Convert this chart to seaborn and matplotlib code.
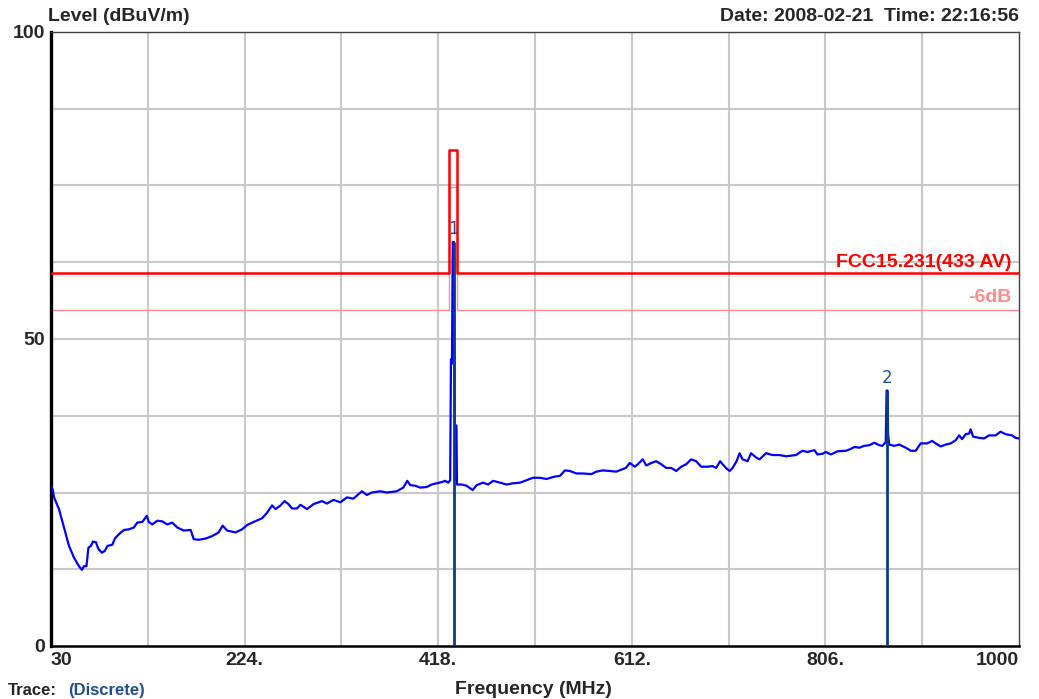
import matplotlib
matplotlib.use("Agg")
import matplotlib.pyplot as plt
import seaborn as sns
import pandas as pd

# ---------------- data ----------------
freq_mhz = [30, 31.7, 33, 38, 43, 48, 53, 58, 61, 63, 65.5, 67.5, 70, 72, 75, 77.5, 81, 84, 86.5,
            91.5, 94, 98, 103, 108, 113, 116.5, 121.5, 126, 128, 131.5, 136.5, 141.5, 146.5, 151.5,
            156.5, 163, 170, 173, 178, 185, 191.5, 198, 202, 206.5, 215, 221.5, 226.5, 233, 241.5,
            246.5, 251.5, 255, 260, 264, 268, 271.5, 276.5, 280, 286.5, 293, 301.5, 306.5, 313, 320,
            326.5, 333, 341.5, 346.5, 351.5, 360, 366.5, 376.5, 383, 387, 390, 395, 400, 406.5,
            411.5, 416.5, 421.5, 425, 428, 430.0, 430.8, 431.8, 432.6, 433.8, 434.6, 435.6, 436.3,
            436.8, 441.5, 446.5, 452.5, 456.5, 463, 468, 473, 480, 486.5, 493, 500, 506.5, 513, 520,
            526.5, 535, 540, 545, 550, 556.5, 563, 571.5, 576.5, 583, 590, 596.5, 603, 606, 610,
            615, 618, 623, 626.5, 631.5, 636.5, 641.5, 646.5, 651.5, 656.5, 661.5, 666.5, 671.5,
            676.5, 681.5, 688, 693, 696.5, 700.5, 703, 707, 710, 713, 717, 720, 723, 728, 731.5,
            736.5, 740, 746.5, 753, 760, 766.5, 776.5, 783, 788, 795, 798, 803, 806.5, 811.5, 818,
            826.5, 830, 835, 840, 845, 850, 855, 860, 863, 866.5, 867.3, 868.3, 868.8, 870, 875, 880,
            886.5, 891.5, 896.5, 901.5, 908, 913, 916.5, 921.5, 926.5, 931.5, 936.5, 940, 943,
            946.5, 950, 951.5, 954, 960, 965, 970, 976.5, 981.5, 986.5, 993, 996.5, 1000]
level_dbuv = [26.0, 25.5, 24.2, 22.3, 19.3, 16.3, 14.4, 13.0, 12.4, 13.0, 13.0, 16.0, 16.3, 17.0, 16.9,
              15.8, 15.2, 15.5, 16.3, 16.5, 17.5, 18.2, 18.9, 19.0, 19.3, 20.1, 20.2, 21.2, 20.2,
              19.8, 20.4, 20.3, 19.8, 20.1, 19.3, 18.8, 18.9, 17.4, 17.3, 17.5, 17.9, 18.5, 19.6,
              18.8, 18.5, 19.0, 19.7, 20.2, 20.8, 21.7, 22.9, 22.3, 22.9, 23.6, 23.1, 22.4, 22.4,
              23.0, 22.3, 23.1, 23.6, 23.2, 23.8, 23.4, 24.2, 24.0, 25.2, 24.6, 25.0, 25.2, 25.0,
              25.2, 25.8, 26.9, 26.2, 26.1, 25.8, 25.9, 26.3, 26.5, 26.7, 26.9, 26.6, 27.0, 46.7,
              46.0, 65.8, 65.8, 27.0, 35.9, 35.9, 26.3, 26.3, 26.1, 25.4, 26.2, 26.6, 26.3, 26.9,
              26.6, 26.3, 26.5, 26.6, 27.0, 27.4, 27.4, 27.2, 27.6, 27.7, 28.6, 28.5, 28.1, 28.1,
              28.0, 28.4, 28.6, 28.5, 28.4, 28.8, 29.0, 29.8, 29.2, 29.6, 30.4, 29.4, 29.8, 30.1,
              29.6, 29.0, 29.0, 28.5, 29.2, 29.6, 30.4, 30.1, 29.2, 29.2, 29.3, 29.0, 30.1, 29.6,
              28.9, 28.5, 29.0, 30.1, 31.4, 30.4, 30.1, 31.4, 30.7, 30.4, 31.4, 31.1, 31.1, 30.9,
              31.1, 31.8, 31.6, 31.9, 31.2, 31.3, 31.6, 31.2, 31.7, 31.8, 32.0, 32.4, 32.3, 32.6,
              32.7, 33.1, 32.7, 32.6, 33.2, 41.6, 41.6, 34.5, 32.8, 32.6, 32.8, 32.3, 31.8, 31.8,
              33.0, 33.0, 33.4, 33.0, 32.5, 32.8, 33.0, 33.5, 34.3, 33.7, 34.5, 34.6, 35.3, 34.1,
              33.9, 33.8, 34.3, 34.3, 34.9, 34.5, 34.3, 33.9, 33.8]

limit_freq = [30, 429.3, 429.3, 437.0, 437.0, 1000]
limit_level = [60.8, 60.8, 80.8, 80.8, 60.8, 60.8]
limit6_level = [54.8, 54.8, 74.8, 74.8, 54.8, 54.8]

marker_freq = [433.4, 867.8]
marker_level = [65.8, 41.6]
marker_labels = ["1", "2"]

xtick_values = [30, 224, 418, 612, 806, 1000]
xtick_labels = ["30", "224.", "418.", "612.", "806.", "1000"]
ytick_values = [0, 50, 100]
ytick_labels = ["0", "50", "100"]

# ---------------- style ----------------
sns.set_style("white")
FONT = ["Liberation Sans", "DejaVu Sans"]
plt.rcParams["font.family"] = FONT

fig = plt.figure(figsize=(10.39, 6.99), dpi=100)
ax = fig.add_axes([51 / 1039, 1 - 646 / 699, (1019 - 51) / 1039, (646 - 32) / 699])

trace = pd.DataFrame({"Frequency": freq_mhz, "Level": level_dbuv})
lim = pd.DataFrame({"Frequency": limit_freq, "Limit": limit_level, "Limit6": limit6_level})

# grid
grid_color = "#c8c8c8"
for gx in range(30 + 97, 1000, 97):
    ax.axvline(gx, color=grid_color, lw=1.5, zorder=0)
for gy in [12.5, 25, 37.5, 50, 62.5, 75, 87.5]:
    ax.axhline(gy, color=grid_color, lw=1.5, zorder=0)

# limit lines
sns.lineplot(data=lim, x="Frequency", y="Limit6", sort=False, estimator=None,
             color="#ff8c8c", lw=1.0, ax=ax, zorder=2)
sns.lineplot(data=lim, x="Frequency", y="Limit", sort=False, estimator=None,
             color="#ff0000", lw=1.8, ax=ax, zorder=3)

# trace
sns.lineplot(data=trace, x="Frequency", y="Level", sort=False, estimator=None,
             color="#0000ff", lw=1.6, ax=ax, zorder=4)

# markers
ax.vlines(marker_freq, 0, marker_level, color="#0b3c8c", lw=2.0, zorder=5)
for mf, ml, lab in zip(marker_freq, marker_level, marker_labels):
    ax.text(mf, ml + 0.6, lab, color="#1f4f8f", fontsize=12, ha="center", va="bottom",
            family=["DejaVu Sans"], zorder=6)

# limit labels
ax.text(992, limit_level[0] + 0.3, "FCC15.231(433 AV)", color="#ff0000", fontsize=14,
        fontweight="bold", ha="right", va="bottom", zorder=6)
ax.text(992, limit6_level[0] + 0.6, "-6dB", color="#ff8c8c", fontsize=14,
        fontweight="bold", ha="right", va="bottom", zorder=6)

ax.set_xlim(30, 1000)
ax.set_ylim(0, 100)
ax.set_xticks(xtick_values)
ax.set_xticklabels(xtick_labels, fontsize=14, fontweight="bold")
for t, ha in zip(ax.get_xticklabels(), ["left", "center", "center", "center", "center", "right"]):
    t.set_horizontalalignment(ha)
ax.set_yticks(ytick_values)
ax.set_yticklabels(ytick_labels, fontsize=14, fontweight="bold")
ax.tick_params(axis="both", length=0, pad=4)
ax.set_xlabel("")
ax.set_ylabel("")

for side in ["top", "right"]:
    ax.spines[side].set_color("#404040")
    ax.spines[side].set_linewidth(1.0)
ax.spines["left"].set_color("black")
ax.spines["left"].set_linewidth(2.4)
ax.spines["bottom"].set_color("black")
ax.spines["bottom"].set_linewidth(1.8)

# texts around
fig.text(48 / 1039, 1 - 25 / 699, "Level (dBuV/m)", fontsize=14, fontweight="bold",
         ha="left", va="bottom")
fig.text(1019 / 1039, 1 - 25 / 699, "Date: 2008-02-21  Time: 22:16:56", fontsize=14,
         fontweight="bold", ha="right", va="bottom")
fig.text(533 / 1039, 1 - 698 / 699, "Frequency (MHz)", fontsize=14, fontweight="bold",
         ha="center", va="bottom")
fig.text(8 / 1039, 1 - 698 / 699, "Trace:", fontsize=12, fontweight="bold", ha="left",
         va="bottom")
fig.text(68 / 1039, 1 - 698 / 699, "(Discrete)", fontsize=12, fontweight="bold",
         color="#1f4f8f", ha="left", va="bottom")

fig.savefig("out.png", dpi=100)
